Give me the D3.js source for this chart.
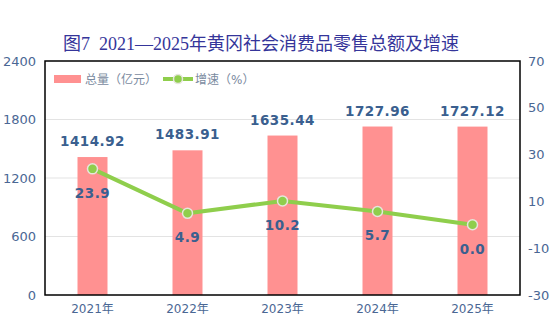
<!DOCTYPE html>
<html><head><meta charset="utf-8">
<script src="https://cdn.jsdelivr.net/npm/d3@7"></script>
<style>body{margin:0;background:#fff}svg{display:block}</style>
</head><body>
<svg id="c" width="554" height="324"></svg>
<script>
const categories = ["2021年","2022年","2023年","2024年","2025年"];
const totals = [1414.92, 1483.91, 1635.44, 1727.96, 1727.12];
const growth = [23.9, 4.9, 10.2, 5.7, 0.0];
const leftTicks = [0, 600, 1200, 1800, 2400];
const rightTicks = [-30, -10, 10, 30, 50, 70];
const title = "图7  2021—2025年黄冈社会消费品零售总额及增速";
const legendLabels = ["总量（亿元）", "增速（%）"];

const svg = d3.select("#c");
const m = {l:45, r:520, t:61, b:295};
const x = d3.scaleBand().domain(categories).range([m.l, m.r]);
const yL = d3.scaleLinear().domain([0, 2400]).range([m.b, m.t]);
const yR = d3.scaleLinear().domain([-30, 70]).range([m.b, m.t]);
const tickColor = "#4a6794";
const font = "'DejaVu Sans', 'Noto Sans CJK SC', sans-serif";
const plain = d => String(d);

svg.append("text").attr("x", 261).attr("y", 50).attr("text-anchor","middle")
  .attr("font-family","'Liberation Serif','DejaVu Serif','Noto Sans CJK SC',serif")
  .attr("font-size", 18).attr("fill","#35359a").style("white-space","pre").text(title);

// gridlines
svg.append("g").selectAll("line").data(leftTicks.slice(1,4)).join("line")
  .attr("x1", m.l).attr("x2", m.r).attr("y1", d=>yL(d)).attr("y2", d=>yL(d))
  .attr("stroke","#e3e3e3").attr("stroke-width",1);

// left axis
const gl = svg.append("g").attr("transform",`translate(${m.l},0)`)
  .call(d3.axisLeft(yL).tickValues(leftTicks).tickFormat(plain).tickSize(0).tickPadding(9));
gl.select(".domain").remove();
gl.selectAll("text").attr("font-family",font).attr("font-size",13).attr("fill",tickColor);

const gr = svg.append("g").attr("transform",`translate(${m.r},0)`)
  .call(d3.axisRight(yR).tickValues(rightTicks).tickFormat(plain).tickSize(0).tickPadding(8));
gr.select(".domain").remove();
gr.selectAll("text").attr("font-family",font).attr("font-size",13).attr("fill",tickColor);

const gx = svg.append("g").attr("transform",`translate(0,${m.b})`)
  .call(d3.axisBottom(x).tickSize(0).tickPadding(9));
gx.select(".domain").remove();
gx.selectAll("text").attr("font-family",font).attr("font-size",12).attr("fill",tickColor);

// bars
const bw = 30;
svg.append("g").selectAll("rect").data(totals).join("rect")
  .attr("x",(d,i)=>x(categories[i])+x.bandwidth()/2-bw/2).attr("width",bw)
  .attr("y",d=>yL(d)).attr("height",d=>m.b-yL(d)).attr("fill","#ff9191");

// frame
svg.append("rect").attr("x",m.l).attr("y",m.t).attr("width",m.r-m.l).attr("height",m.b-m.t)
  .attr("fill","none").attr("stroke","#000").attr("stroke-width",1.5);

// line
const line = d3.line().x((d,i)=>x(categories[i])+x.bandwidth()/2).y(d=>yR(d));
svg.append("path").datum(growth).attr("d",line).attr("fill","none")
  .attr("stroke","#8fce4c").attr("stroke-width",4).attr("stroke-linejoin","round");
svg.append("g").selectAll("circle").data(growth).join("circle")
  .attr("cx",(d,i)=>x(categories[i])+x.bandwidth()/2).attr("cy",d=>yR(d)).attr("r",5)
  .attr("fill","#8fce4c").attr("stroke","#e6e6dc").attr("stroke-width",1.5);

// labels
const lblColor = "#3a5f8f";
svg.append("g").selectAll("text").data(totals).join("text")
  .attr("x",(d,i)=>x(categories[i])+x.bandwidth()/2).attr("y",d=>yL(d)-11)
  .attr("text-anchor","middle").attr("font-family",font).attr("font-weight","bold")
  .attr("font-size",13.5).attr("fill",lblColor).attr("letter-spacing",0.5)
  .text(d=>d.toFixed(2));
svg.append("g").selectAll("text").data(growth).join("text")
  .attr("x",(d,i)=>x(categories[i])+x.bandwidth()/2).attr("y",d=>yR(d)+29)
  .attr("text-anchor","middle").attr("font-family",font).attr("font-weight","bold")
  .attr("font-size",13.5).attr("fill",lblColor).attr("letter-spacing",0.5)
  .text(d=>d.toFixed(1));

// legend
const lg = svg.append("g");
lg.append("rect").attr("x",54).attr("y",75).attr("width",27).attr("height",8).attr("fill","#ff9191");
lg.append("text").attr("x",85).attr("y",83.5).attr("font-family",font).attr("font-size",12)
  .attr("fill","#7a8aa0").text(legendLabels[0]);
lg.append("line").attr("x1",163).attr("x2",193).attr("y1",79).attr("y2",79)
  .attr("stroke","#8fce4c").attr("stroke-width",4);
lg.append("circle").attr("cx",178).attr("cy",79).attr("r",4.5).attr("fill","#8fce4c")
  .attr("stroke","#e6e6dc").attr("stroke-width",1.5);
lg.append("text").attr("x",195).attr("y",83.5).attr("font-family",font).attr("font-size",12)
  .attr("fill","#7a8aa0").text(legendLabels[1]);
</script>
</body></html>
